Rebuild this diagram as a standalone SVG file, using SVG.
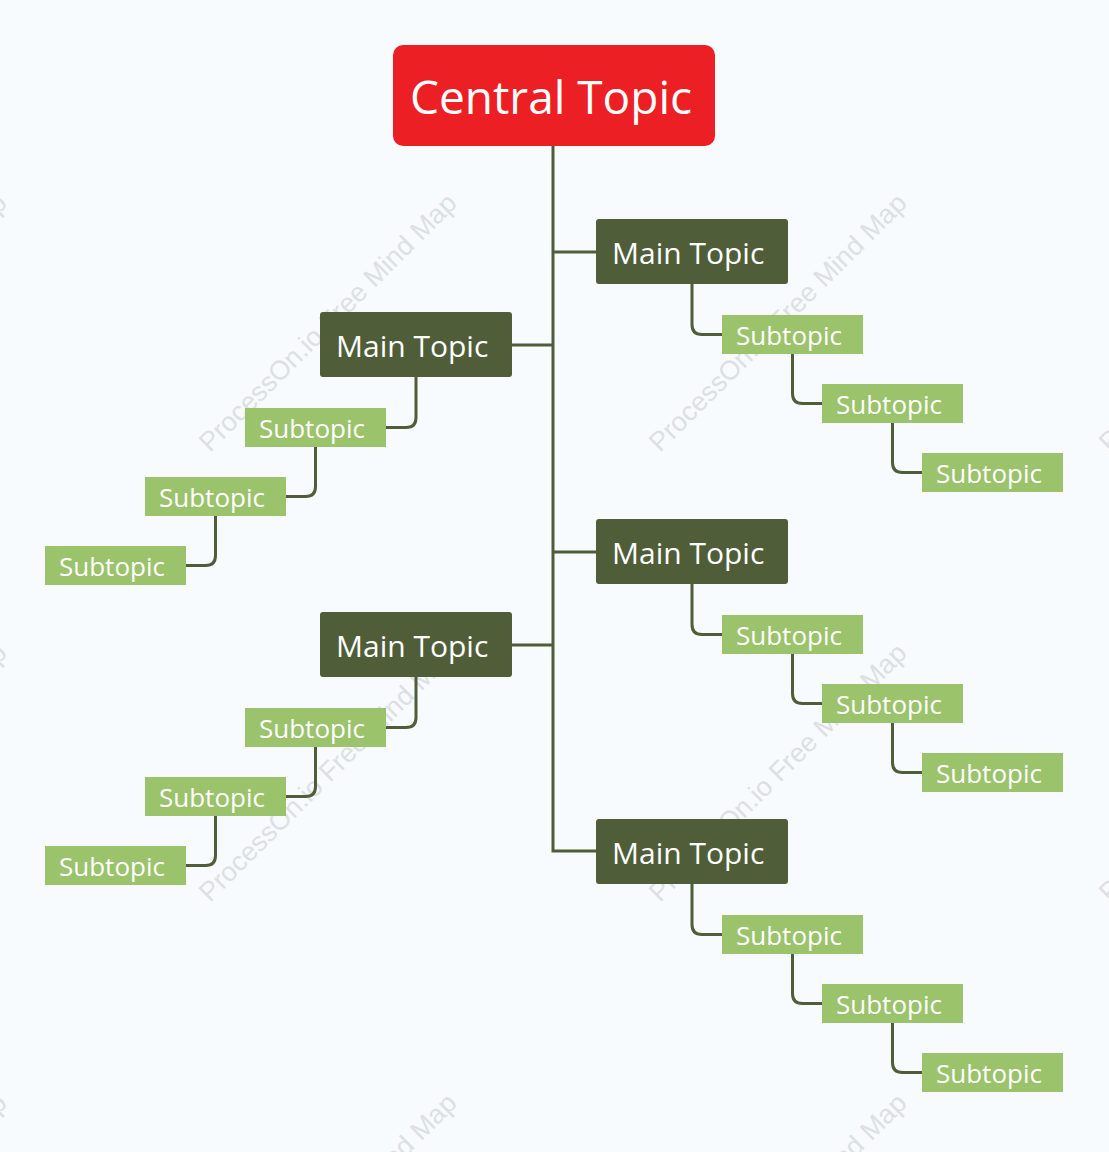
<svg xmlns="http://www.w3.org/2000/svg" width="1109" height="1152" viewBox="0 0 1109 1152">
<defs>
<style>
.bg{fill:#F7FBFE}
.wm{font-family:"Liberation Sans",Arial,sans-serif;font-size:27px;fill:#DDE0E3}
.central rect{fill:#EC1F24}
.central text{font-family:"Open Sans","Noto Sans",sans-serif;font-size:46px;fill:#FFFFFF}
.main rect{fill:#4F5E39}
.main text{font-family:"Open Sans","Noto Sans",sans-serif;font-size:30px;fill:#FFFFFF}
.sub rect{fill:#9BC36B}
.sub text{font-family:"Open Sans","Noto Sans",sans-serif;font-size:26px;fill:#FFFFFF}
.conn path{fill:none;stroke:#4F5E39;stroke-width:3}
</style>
<text id="wmt" class="wm">ProcessOn.io Free Mind Map</text>
</defs>
<rect class="bg" x="0" y="0" width="1109" height="1152"/>
<g id="watermarks">
<use href="#wmt" transform="translate(-240,453) rotate(-45)"/>
<use href="#wmt" transform="translate(210,453) rotate(-45)"/>
<use href="#wmt" transform="translate(660,453) rotate(-45)"/>
<use href="#wmt" transform="translate(1110,453) rotate(-45)"/>
<use href="#wmt" transform="translate(-240,903) rotate(-45)"/>
<use href="#wmt" transform="translate(210,903) rotate(-45)"/>
<use href="#wmt" transform="translate(660,903) rotate(-45)"/>
<use href="#wmt" transform="translate(1110,903) rotate(-45)"/>
<use href="#wmt" transform="translate(-240,1353) rotate(-45)"/>
<use href="#wmt" transform="translate(210,1353) rotate(-45)"/>
<use href="#wmt" transform="translate(660,1353) rotate(-45)"/>
<use href="#wmt" transform="translate(1110,1353) rotate(-45)"/>
</g>
<g id="connectors" class="conn">
<path d="M553,146 V851 H596"/>
<path d="M553,252 H596"/>
<path d="M553,552 H596"/>
<path d="M512,345 H553"/>
<path d="M512,645 H553"/>
<path d="M692,284 V324.5 Q692,334.5 702,334.5 H722"/>
<path d="M792.5,354 V393.5 Q792.5,403.5 802.5,403.5 H822"/>
<path d="M892.5,423 V462.5 Q892.5,472.5 902.5,472.5 H922"/>
<path d="M692,584 V624.5 Q692,634.5 702,634.5 H722"/>
<path d="M792.5,654 V693.5 Q792.5,703.5 802.5,703.5 H822"/>
<path d="M892.5,723 V762.5 Q892.5,772.5 902.5,772.5 H922"/>
<path d="M692,884 V924.5 Q692,934.5 702,934.5 H722"/>
<path d="M792.5,954 V993.5 Q792.5,1003.5 802.5,1003.5 H822"/>
<path d="M892.5,1023 V1062.5 Q892.5,1072.5 902.5,1072.5 H922"/>
<path d="M416,377 V417.5 Q416,427.5 406,427.5 H386"/>
<path d="M315.5,447 V486.5 Q315.5,496.5 305.5,496.5 H286"/>
<path d="M215.5,516 V555.5 Q215.5,565.5 205.5,565.5 H186"/>
<path d="M416,677 V717.5 Q416,727.5 406,727.5 H386"/>
<path d="M315.5,747 V786.5 Q315.5,796.5 305.5,796.5 H286"/>
<path d="M215.5,816 V855.5 Q215.5,865.5 205.5,865.5 H186"/>
</g>
<g id="central" class="central"><rect x="393" y="45" width="322" height="101" rx="10"/><text x="551" y="114" text-anchor="middle">Central Topic</text></g>
<g id="main-r1" class="main"><rect x="596" y="219" width="192" height="65" rx="3"/><text x="612" y="264">Main Topic</text></g>
<g id="main-r2" class="main"><rect x="596" y="519" width="192" height="65" rx="3"/><text x="612" y="564">Main Topic</text></g>
<g id="main-r3" class="main"><rect x="596" y="819" width="192" height="65" rx="3"/><text x="612" y="864">Main Topic</text></g>
<g id="main-l1" class="main"><rect x="320" y="312" width="192" height="65" rx="3"/><text x="336" y="357">Main Topic</text></g>
<g id="main-l2" class="main"><rect x="320" y="612" width="192" height="65" rx="3"/><text x="336" y="657">Main Topic</text></g>
<g id="sub-r1a" class="sub"><rect x="722" y="315" width="141" height="39"/><text x="736" y="344.5">Subtopic</text></g>
<g id="sub-r1b" class="sub"><rect x="822" y="384" width="141" height="39"/><text x="836" y="413.5">Subtopic</text></g>
<g id="sub-r1c" class="sub"><rect x="922" y="453" width="141" height="39"/><text x="936" y="482.5">Subtopic</text></g>
<g id="sub-r2a" class="sub"><rect x="722" y="615" width="141" height="39"/><text x="736" y="644.5">Subtopic</text></g>
<g id="sub-r2b" class="sub"><rect x="822" y="684" width="141" height="39"/><text x="836" y="713.5">Subtopic</text></g>
<g id="sub-r2c" class="sub"><rect x="922" y="753" width="141" height="39"/><text x="936" y="782.5">Subtopic</text></g>
<g id="sub-r3a" class="sub"><rect x="722" y="915" width="141" height="39"/><text x="736" y="944.5">Subtopic</text></g>
<g id="sub-r3b" class="sub"><rect x="822" y="984" width="141" height="39"/><text x="836" y="1013.5">Subtopic</text></g>
<g id="sub-r3c" class="sub"><rect x="922" y="1053" width="141" height="39"/><text x="936" y="1082.5">Subtopic</text></g>
<g id="sub-l1a" class="sub"><rect x="245" y="408" width="141" height="39"/><text x="259" y="437.5">Subtopic</text></g>
<g id="sub-l1b" class="sub"><rect x="145" y="477" width="141" height="39"/><text x="159" y="506.5">Subtopic</text></g>
<g id="sub-l1c" class="sub"><rect x="45" y="546" width="141" height="39"/><text x="59" y="575.5">Subtopic</text></g>
<g id="sub-l2a" class="sub"><rect x="245" y="708" width="141" height="39"/><text x="259" y="737.5">Subtopic</text></g>
<g id="sub-l2b" class="sub"><rect x="145" y="777" width="141" height="39"/><text x="159" y="806.5">Subtopic</text></g>
<g id="sub-l2c" class="sub"><rect x="45" y="846" width="141" height="39"/><text x="59" y="875.5">Subtopic</text></g>
</svg>
